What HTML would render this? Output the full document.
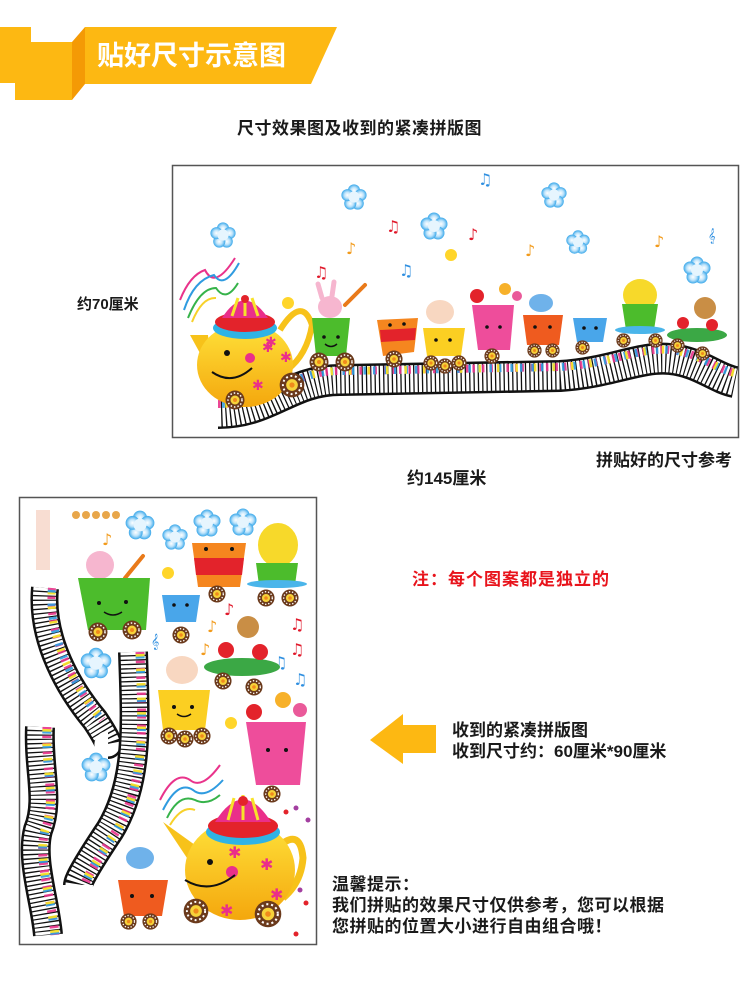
<!DOCTYPE html>
<html><head><meta charset="utf-8">
<style>
html,body{margin:0;padding:0;background:#fff;}
body{width:750px;height:1002px;position:relative;overflow:hidden;font-family:"Liberation Sans","Noto Sans CJK SC",sans-serif;}
.t{position:absolute;white-space:nowrap;color:#1a1a1a;font-weight:bold;}
</style></head><body>
<svg width="750" height="1002" viewBox="0 0 750 1002" style="position:absolute;left:0;top:0">
<defs>
<radialGradient id="cg"><stop offset="0" stop-color="#fff"/><stop offset="0.5" stop-color="#bfe4fb"/><stop offset="1" stop-color="#3aa8ea"/></radialGradient>
<symbol id="cloud" viewBox="-15 -15 30 30" overflow="visible">
<g fill="url(#cg)"><circle cx="0" cy="-7" r="6.5"/><circle cx="7" cy="-2" r="6.5"/><circle cx="4" cy="7" r="6.5"/><circle cx="-4" cy="7" r="6.5"/><circle cx="-7" cy="-2" r="6.5"/><circle r="6" fill="#e6f5fe"/></g>
</symbol>
<symbol id="wheel" viewBox="-10 -10 20 20" overflow="visible">
<circle r="9.5" fill="#6b3a1c"/><circle r="7" fill="none" stroke="#fff" stroke-width="1.5" stroke-dasharray="1.5 2"/><circle r="4.5" fill="#f6d23a"/><circle r="2" fill="#f08a1c"/>
</symbol>
<linearGradient id="tp" x1="0" y1="0" x2="0" y2="1"><stop offset="0" stop-color="#ffe23a"/><stop offset="1" stop-color="#f4a70d"/></linearGradient>
</defs>

<!-- header banner -->
<polygon points="0,27 31,27 31,42 72,42 72,100 15,100 15,83 0,83" fill="#fdb812"/>
<polygon points="72,42 85,27 85,84 72,100" fill="#f49a05"/>
<polygon points="85,27 337,27 311,84 85,84" fill="#fdb812"/>
<text x="97" y="65" font-family="Liberation Sans,Noto Sans CJK SC,sans-serif" font-size="27" font-weight="bold" fill="#fff">贴好尺寸示意图</text>

<!-- top frame -->
<rect x="172.5" y="165.5" width="566" height="272" fill="#fff" stroke="#555" stroke-width="1.5"/>

<!-- piano wave top -->
<g id="pw">
<path d="M218 413 C 270 413, 290 380, 340 380 L 560 376 C 610 373, 640 356, 670 359 C 700 362, 715 378, 735 382" fill="none" stroke="#111" stroke-width="32"/>
<path d="M218 413 C 270 413, 290 380, 340 380 L 560 376 C 610 373, 640 356, 670 359 C 700 362, 715 378, 735 382" fill="none" stroke="#fff" stroke-width="27" stroke-dasharray="3 1.3"/>
<path d="M218 404 C 270 404, 290 371, 340 371 L 560 367 C 610 364, 640 347, 670 350 C 700 353, 715 369, 735 373" fill="none" stroke="#e9338b" stroke-width="8" stroke-dasharray="2.5 6 2.5 4 2.5 7" opacity="0.9"/>
<path d="M218 404 C 270 404, 290 371, 340 371 L 560 367 C 610 364, 640 347, 670 350 C 700 353, 715 369, 735 373" fill="none" stroke="#2f9be0" stroke-width="8" stroke-dasharray="0 4 2.5 7 2.5 5" opacity="0.9"/>
<path d="M218 404 C 270 404, 290 371, 340 371 L 560 367 C 610 364, 640 347, 670 350 C 700 353, 715 369, 735 373" fill="none" stroke="#f7e22a" stroke-width="8" stroke-dasharray="0 7 2.5 9" opacity="0.95"/>
</g>

<!-- clouds top -->
<use href="#cloud" x="209" y="221" width="28" height="28"/>
<use href="#cloud" x="340" y="183" width="28" height="28"/>
<use href="#cloud" x="419" y="211" width="30" height="30"/>
<use href="#cloud" x="540" y="181" width="28" height="28"/>
<use href="#cloud" x="565" y="229" width="26" height="26"/>
<use href="#cloud" x="682" y="255" width="30" height="30"/>
<g font-size="16" font-family="DejaVu Sans,sans-serif">
<text x="478" y="185" fill="#2f8fe0">♫</text>
<text x="386" y="232" fill="#e0182a">♫</text>
<text x="346" y="254" fill="#f29a1a">♪</text>
<text x="468" y="240" fill="#e0182a">♪</text>
<text x="314" y="278" fill="#e0182a">♫</text>
<text x="399" y="276" fill="#2f8fe0">♫</text>
<text x="525" y="256" fill="#f29a1a">♪</text>
<text x="654" y="247" fill="#f29a1a">♪</text>
<text x="708" y="240" fill="#2f8fe0" font-size="13">𝄞</text>
</g>
<circle cx="451" cy="255" r="6" fill="#ffd52a"/>
<circle cx="288" cy="303" r="6" fill="#ffd52a"/>

<!-- teapot top -->
<path d="M180 300 q10 -25 25 -30 q10 20 30 -12" fill="none" stroke="#e9338b" stroke-width="2"/>
<path d="M184 310 q10 -30 30 -35 q10 15 25 -12" fill="none" stroke="#2f9be0" stroke-width="2"/>
<path d="M188 318 q12 -30 28 -30 q10 15 22 -5" fill="none" stroke="#36b34a" stroke-width="2"/>
<path d="M192 322 q10 -25 24 -24" fill="none" stroke="#f7d12a" stroke-width="2"/>
<path d="M208 335 L190 335 L212 375 Z" fill="#f7c21a"/>
<path d="M280 330 q22 -35 32 -5 q-5 30 -25 45" fill="none" stroke="#f7c21a" stroke-width="6"/>
<ellipse cx="245" cy="365" rx="48" ry="42" fill="url(#tp)"/>
<ellipse cx="245" cy="328" rx="32" ry="11" fill="#2fb3e5"/>
<ellipse cx="245" cy="322" rx="30" ry="10" fill="#e3232b"/>
<path d="M222 318 q22 -35 46 0 Z" fill="#ea2f8a"/>
<path d="M232 316 l6 -18 M245 316 l0 -20 M258 316 l-6 -18" stroke="#f7e22a" stroke-width="3"/>
<circle cx="245" cy="299" r="4" fill="#e3232b"/>
<circle cx="227" cy="353" r="3" fill="#111"/>
<circle cx="250" cy="358" r="5" fill="#ea2f8a"/>
<path d="M212 372 q20 14 40 -4" fill="none" stroke="#111" stroke-width="2"/>
<g fill="#ea2f8a" font-size="14"><text x="262" y="352">✱</text><text x="280" y="362">✱</text><text x="252" y="390">✱</text><text x="265" y="347">✱</text></g>
<use href="#wheel" x="225" y="390" width="20" height="20"/>
<use href="#wheel" x="279" y="372" width="26" height="26"/>

<ellipse cx="330" cy="307" rx="12" ry="11" fill="#f6b6cf"/>
<path d="M322 298 l-4 -14 M332 296 l2 -14" stroke="#f6b6cf" stroke-width="5" stroke-linecap="round"/>
<path d="M345 305 l20 -20" stroke="#e97a1a" stroke-width="4" stroke-linecap="round"/>
<path d="M312 318 L350 318 L346 356 L316 356 Z" fill="#4cbc2c"/>
<circle cx="324" cy="337" r="1.8" fill="#111"/><circle cx="338" cy="337" r="1.8" fill="#111"/>
<path d="M325 344 q6 5 12 0" fill="none" stroke="#111" stroke-width="1.5"/>
<use href="#wheel" x="309" y="352" width="20" height="20"/>
<use href="#wheel" x="335" y="352" width="20" height="20"/>
<path d="M377 320 L418 318 L414 352 L383 356 Z" fill="#f5861f"/>
<path d="M380 330 L416 328 L415 340 L381 342 Z" fill="#e3232b"/>
<circle cx="390" cy="325" r="1.8" fill="#111"/><circle cx="404" cy="324" r="1.8" fill="#111"/>
<use href="#wheel" x="385" y="350" width="18" height="18"/>
<ellipse cx="440" cy="312" rx="14" ry="12" fill="#f8d7c1"/>
<path d="M423 328 L465 328 L461 356 L427 356 Z" fill="#fbcf22"/>
<circle cx="436" cy="340" r="1.8" fill="#111"/><circle cx="450" cy="340" r="1.8" fill="#111"/>
<use href="#wheel" x="423" y="355" width="16" height="16"/>
<use href="#wheel" x="437" y="358" width="16" height="16"/>
<use href="#wheel" x="451" y="355" width="16" height="16"/>
<circle cx="477" cy="296" r="7" fill="#e3232b"/>
<circle cx="505" cy="289" r="6" fill="#f7b12a"/>
<circle cx="517" cy="296" r="5" fill="#ea5a9a"/>
<path d="M472 305 L514 305 L510 350 L478 350 Z" fill="#ee4d9b"/>
<circle cx="487" cy="327" r="1.8" fill="#111"/><circle cx="500" cy="327" r="1.8" fill="#111"/>
<use href="#wheel" x="484" y="348" width="16" height="16"/>
<ellipse cx="541" cy="303" rx="12" ry="9" fill="#6fb2ea"/>
<path d="M523 315 L563 315 L559 345 L527 345 Z" fill="#ef5b1f"/>
<circle cx="535" cy="327" r="1.8" fill="#111"/><circle cx="550" cy="327" r="1.8" fill="#111"/>
<use href="#wheel" x="527" y="343" width="15" height="15"/>
<use href="#wheel" x="545" y="343" width="15" height="15"/>
<path d="M573 318 L607 318 L603 342 L577 342 Z" fill="#49a6ea"/>
<circle cx="584" cy="328" r="1.8" fill="#111"/><circle cx="596" cy="328" r="1.8" fill="#111"/>
<use href="#wheel" x="575" y="340" width="15" height="15"/>
<ellipse cx="640" cy="295" rx="17" ry="16" fill="#f7d92a"/>
<path d="M622 304 L658 304 L654 330 L626 330 Z" fill="#4cbc2c"/>
<ellipse cx="640" cy="330" rx="25" ry="4" fill="#4ab5ea"/>
<use href="#wheel" x="616" y="333" width="15" height="15"/>
<use href="#wheel" x="648" y="333" width="15" height="15"/>
<circle cx="705" cy="308" r="11" fill="#c98e45"/>
<ellipse cx="697" cy="335" rx="30" ry="7" fill="#3ba845"/>
<circle cx="683" cy="323" r="6" fill="#e3232b"/><circle cx="712" cy="325" r="6" fill="#e3232b"/>
<use href="#wheel" x="670" y="338" width="15" height="15"/>
<use href="#wheel" x="695" y="346" width="15" height="15"/>

<!-- bottom frame -->
<rect x="19.5" y="497.5" width="297" height="447" fill="#fff" stroke="#555" stroke-width="1.5"/>
<g>
<path d="M45 588 C 40 640, 70 690, 95 720 C 105 735, 110 745, 108 745" fill="none" stroke="#111" stroke-width="28"/>
<path d="M45 588 C 40 640, 70 690, 95 720 C 105 735, 110 745, 108 745" fill="none" stroke="#fff" stroke-width="23" stroke-dasharray="3 1.3"/>
<path d="M52 588 C 47 640, 77 690, 102 720" fill="none" stroke="#e9338b" stroke-width="8" stroke-dasharray="2.5 6 2.5 5" opacity="0.9"/>
<path d="M52 588 C 47 640, 77 690, 102 720" fill="none" stroke="#f7e22a" stroke-width="8" stroke-dasharray="0 4 2.5 8" opacity="0.95"/>
<path d="M52 588 C 47 640, 77 690, 102 720" fill="none" stroke="#2f9be0" stroke-width="8" stroke-dasharray="0 2 2.5 9" opacity="0.9"/>
</g>
<g>
<path d="M40 727 C 38 770, 50 800, 38 830 C 30 860, 45 900, 48 935" fill="none" stroke="#111" stroke-width="30"/>
<path d="M40 727 C 38 770, 50 800, 38 830 C 30 860, 45 900, 48 935" fill="none" stroke="#fff" stroke-width="25" stroke-dasharray="3 1.3"/>
<path d="M47 727 C 45 770, 57 800, 45 830 C 37 860, 52 900, 55 935" fill="none" stroke="#e9338b" stroke-width="9" stroke-dasharray="2.5 6 2.5 5" opacity="0.9"/>
<path d="M47 727 C 45 770, 57 800, 45 830 C 37 860, 52 900, 55 935" fill="none" stroke="#2f9be0" stroke-width="9" stroke-dasharray="0 4 2.5 8" opacity="0.9"/>
<path d="M47 727 C 45 770, 57 800, 45 830 C 37 860, 52 900, 55 935" fill="none" stroke="#f7e22a" stroke-width="9" stroke-dasharray="0 2 2.5 10" opacity="0.95"/>
</g>
<g>
<path d="M133 652 C 135 720, 140 780, 110 830 C 90 860, 78 880, 78 885" fill="none" stroke="#111" stroke-width="30"/>
<path d="M133 652 C 135 720, 140 780, 110 830 C 90 860, 78 880, 78 885" fill="none" stroke="#fff" stroke-width="25" stroke-dasharray="3 1.3"/>
<path d="M140 652 C 142 720, 147 780, 117 830 C 97 860, 85 880, 85 885" fill="none" stroke="#e9338b" stroke-width="9" stroke-dasharray="2.5 6 2.5 5" opacity="0.9"/>
<path d="M140 652 C 142 720, 147 780, 117 830 C 97 860, 85 880, 85 885" fill="none" stroke="#2f9be0" stroke-width="9" stroke-dasharray="0 4 2.5 8" opacity="0.9"/>
<path d="M140 652 C 142 720, 147 780, 117 830 C 97 860, 85 880, 85 885" fill="none" stroke="#f7e22a" stroke-width="9" stroke-dasharray="0 2 2.5 10" opacity="0.95"/>
</g>
<rect x="36" y="510" width="14" height="60" fill="#f4c7b4" opacity="0.6"/>
<circle cx="76" cy="515" r="4" fill="#e8a64a"/><circle cx="86" cy="515" r="4" fill="#e8a64a"/><circle cx="96" cy="515" r="4" fill="#e8a64a"/><circle cx="106" cy="515" r="4" fill="#e8a64a"/><circle cx="116" cy="515" r="4" fill="#e8a64a"/>
<use href="#cloud" x="124" y="507" width="32" height="36"/>
<use href="#cloud" x="161" y="522" width="28" height="30"/>
<use href="#cloud" x="192" y="508" width="30" height="30"/>
<use href="#cloud" x="227" y="507" width="32" height="30"/>
<use href="#cloud" x="79" y="646" width="34" height="34"/>
<use href="#cloud" x="80" y="750" width="32" height="34"/>
<g font-size="16" font-family="DejaVu Sans,sans-serif">
<text x="102" y="545" fill="#f29a1a">♪</text>
<text x="224" y="615" fill="#e0182a">♪</text>
<text x="207" y="632" fill="#f29a1a">♪</text>
<text x="200" y="655" fill="#f29a1a">♪</text>
<text x="290" y="630" fill="#e0182a">♫</text>
<text x="290" y="655" fill="#e0182a">♫</text>
<text x="273" y="668" fill="#2f8fe0">♫</text>
<text x="293" y="685" fill="#2f8fe0">♫</text>
<text x="151" y="646" fill="#2f8fe0" font-size="14">𝄞</text>
</g>
<ellipse cx="100" cy="565" rx="14" ry="14" fill="#f6b6cf"/>
<path d="M125 578 l18 -22" stroke="#e97a1a" stroke-width="4" stroke-linecap="round"/>
<path d="M78 578 L150 578 L146 630 L88 630 Z" fill="#4cbc2c"/>
<circle cx="99" cy="603" r="2" fill="#111"/><circle cx="126" cy="602" r="2" fill="#111"/>
<path d="M104 612 q9 6 18 0" fill="none" stroke="#111" stroke-width="1.5"/>
<use href="#wheel" x="88" y="622" width="20" height="20"/>
<use href="#wheel" x="122" y="620" width="20" height="20"/>
<circle cx="168" cy="573" r="6" fill="#ffd52a"/>
<path d="M192 543 L246 543 L240 587 L198 587 Z" fill="#f5861f"/>
<path d="M194 558 L244 558 L242 575 L196 575 Z" fill="#e3232b"/>
<circle cx="206" cy="549" r="2" fill="#111"/><circle cx="232" cy="549" r="2" fill="#111"/>
<use href="#wheel" x="208" y="585" width="18" height="18"/>
<ellipse cx="278" cy="545" rx="20" ry="22" fill="#f7d92a"/>
<path d="M256 563 L298 563 L295 585 L259 585 Z" fill="#4cbc2c"/>
<ellipse cx="277" cy="584" rx="30" ry="4" fill="#4ab5ea"/>
<use href="#wheel" x="257" y="589" width="18" height="18"/>
<use href="#wheel" x="281" y="589" width="18" height="18"/>
<path d="M162 595 L200 595 L196 622 L166 622 Z" fill="#49a6ea"/>
<circle cx="174" cy="605" r="1.8" fill="#111"/><circle cx="187" cy="605" r="1.8" fill="#111"/>
<use href="#wheel" x="172" y="626" width="18" height="18"/>
<circle cx="248" cy="627" r="11" fill="#c98e45"/>
<ellipse cx="242" cy="667" rx="38" ry="9" fill="#3ba845"/>
<circle cx="226" cy="650" r="8" fill="#e3232b"/><circle cx="260" cy="652" r="8" fill="#e3232b"/>
<use href="#wheel" x="214" y="672" width="18" height="18"/>
<use href="#wheel" x="245" y="678" width="18" height="18"/>
<ellipse cx="182" cy="670" rx="16" ry="14" fill="#f8d7c1"/>
<path d="M158 690 L210 690 L205 730 L163 730 Z" fill="#fbcf22"/>
<circle cx="174" cy="707" r="2" fill="#111"/><circle cx="192" cy="707" r="2" fill="#111"/>
<path d="M177 714 q7 5 14 0" fill="none" stroke="#111" stroke-width="1.5"/>
<use href="#wheel" x="160" y="727" width="18" height="18"/>
<use href="#wheel" x="176" y="730" width="18" height="18"/>
<use href="#wheel" x="193" y="727" width="18" height="18"/>
<circle cx="231" cy="723" r="6" fill="#ffd52a"/>
<circle cx="283" cy="700" r="8" fill="#f7b12a"/>
<circle cx="300" cy="710" r="7" fill="#ea5a9a"/>
<circle cx="254" cy="712" r="8" fill="#e3232b"/>
<path d="M246 722 L306 722 L300 785 L256 785 Z" fill="#ee4d9b"/>
<circle cx="268" cy="750" r="2" fill="#111"/><circle cx="286" cy="750" r="2" fill="#111"/>
<use href="#wheel" x="263" y="785" width="18" height="18"/>
<path d="M160 800 q15 -30 30 -20 q12 10 30 -15" fill="none" stroke="#e9338b" stroke-width="2"/>
<path d="M163 810 q15 -30 30 -20 q12 10 30 -10" fill="none" stroke="#2f9be0" stroke-width="2"/>
<path d="M167 818 q12 -25 28 -18 q12 6 25 -5" fill="none" stroke="#36b34a" stroke-width="2"/>
<path d="M170 825 q12 -20 25 -15" fill="none" stroke="#f7d12a" stroke-width="2"/>
<path d="M195 845 L163 822 L205 885 Z" fill="#f7c21a"/>
<path d="M275 850 q25 -25 28 8 q-2 25 -20 40" fill="none" stroke="#f7c21a" stroke-width="7"/>
<ellipse cx="240" cy="870" rx="55" ry="50" fill="url(#tp)"/>
<ellipse cx="243" cy="832" rx="37" ry="13" fill="#2fb3e5"/>
<ellipse cx="243" cy="826" rx="35" ry="12" fill="#e3232b"/>
<path d="M215 822 q28 -45 56 0 Z" fill="#ea2f8a"/>
<path d="M228 820 l6 -22 M243 820 l0 -25 M258 820 l-6 -22" stroke="#f7e22a" stroke-width="3"/>
<circle cx="243" cy="801" r="5" fill="#e3232b"/>
<circle cx="210" cy="862" r="3" fill="#111"/>
<circle cx="232" cy="872" r="6" fill="#ea2f8a"/>
<path d="M185 880 q25 15 50 -5" fill="none" stroke="#111" stroke-width="2"/>
<g fill="#ea2f8a" font-size="16"><text x="228" y="858">✱</text><text x="260" y="870">✱</text><text x="270" y="900">✱</text><text x="220" y="916">✱</text></g>
<use href="#wheel" x="183" y="898" width="26" height="26"/>
<use href="#wheel" x="254" y="900" width="28" height="28"/>
<ellipse cx="140" cy="858" rx="14" ry="11" fill="#6fb2ea"/>
<path d="M118 880 L168 880 L162 916 L124 916 Z" fill="#ef5b1f"/>
<circle cx="132" cy="896" r="2" fill="#111"/><circle cx="152" cy="896" r="2" fill="#111"/>
<use href="#wheel" x="120" y="913" width="17" height="17"/>
<use href="#wheel" x="142" y="913" width="17" height="17"/>
<g fill="#a33fa0"><circle cx="296" cy="808" r="2.5"/><circle cx="308" cy="820" r="2.5"/><circle cx="300" cy="890" r="2.5"/></g>
<g fill="#e3232b"><circle cx="286" cy="812" r="2.5"/><circle cx="306" cy="903" r="2.5"/><circle cx="296" cy="934" r="2.5"/></g>

<polygon points="370,740 403,714 403,725 436,725 436,753 403,753 403,764" fill="#fdb812"/>
</svg>

<div class="t" style="left:237px;top:114px;font-size:17px;letter-spacing:0.5px;">尺寸效果图及收到的紧凑拼版图</div>
<div class="t" style="left:77px;top:293px;font-size:15px;">约70厘米</div>
<div class="t" style="left:596px;top:446px;font-size:17px;">拼贴好的尺寸参考</div>
<div class="t" style="left:407px;top:464px;font-size:17px;">约145厘米</div>
<div class="t" style="left:412px;top:565px;font-size:17px;color:#e8131b;letter-spacing:1px;">注：每个图案都是独立的</div>
<div class="t" style="left:452px;top:720px;font-size:17px;line-height:21px;">收到的紧凑拼版图<br>收到尺寸约：60厘米*90厘米</div>
<div class="t" style="left:332px;top:874px;font-size:17px;line-height:21px;letter-spacing:0.5px;">温馨提示：<br>我们拼贴的效果尺寸仅供参考，您可以根据<br>您拼贴的位置大小进行自由组合哦！</div>
</body></html>
